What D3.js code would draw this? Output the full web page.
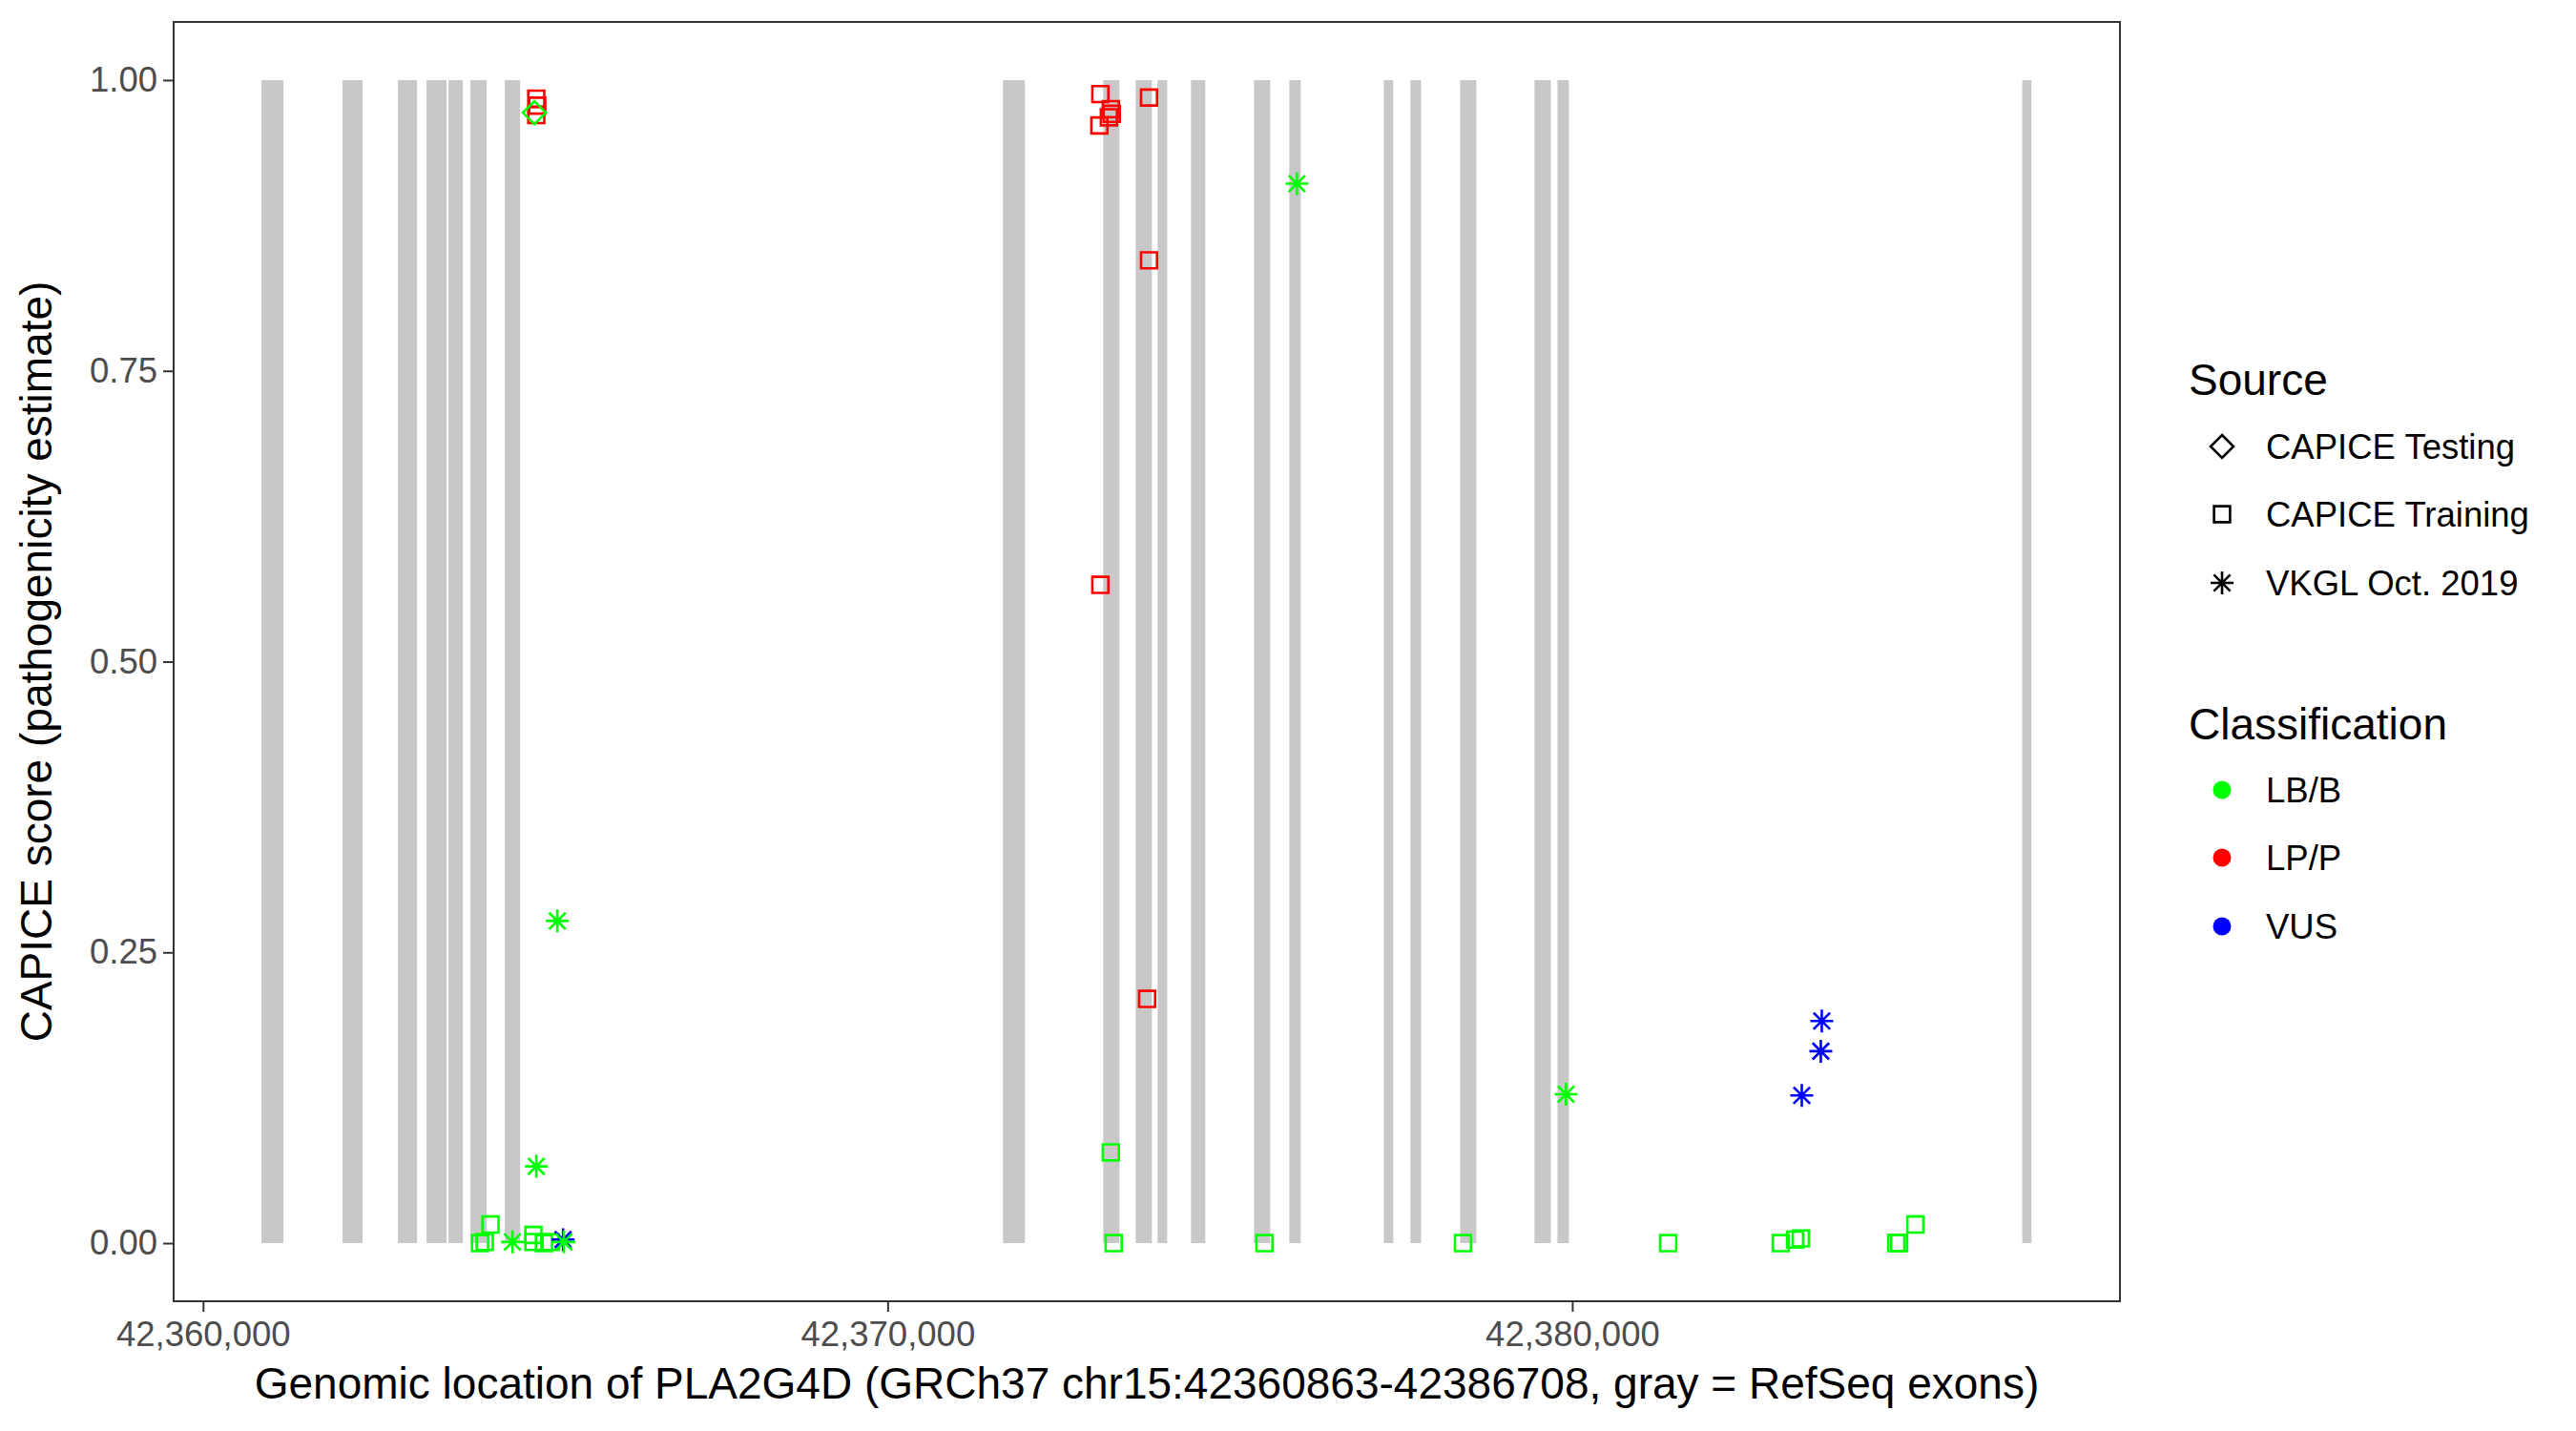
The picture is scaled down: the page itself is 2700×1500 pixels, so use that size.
<!DOCTYPE html>
<html>
<head>
<meta charset="utf-8">
<script src="https://cdn.jsdelivr.net/npm/d3@7"></script>
<style>
  body { margin: 0; background: #fff; }
  text { font-family: "Liberation Sans", Arial, Helvetica, sans-serif; }
</style>
</head>
<body>
<script>
// gene + RefSeq exons (GRCh37 chr15)
var geneStart = 42360863, geneEnd = 42386708
var exonStarts = [42360854, 42362038, 42362847, 42363265, 42363586, 42363906, 42364408,
  42371685, 42373149, 42373623, 42373943, 42374431, 42375351, 42375867, 42377247,
  42377637, 42378362, 42379449, 42379784, 42386573]
var exonEnds = [42361174, 42362331, 42363126, 42363558, 42363795, 42364143, 42364631,
  42372005, 42373386, 42373860, 42374083, 42374640, 42375588, 42376034, 42377386,
  42377791, 42378599, 42379686, 42379951, 42386708]

// variants
var varPos = [
  42364046, 42364115, 42364199, 42364826, 42364826, 42364980, 42365077, 42373260, 42373302,
  42375504, 42378404, 42381401, 42383046, 42383255, 42383339, 42384733, 42384774, 42385012,
  42364868, 42364882, 42364868, 42373107, 42373260, 42373274, 42373232, 42373093, 42373818,
  42373818, 42373107, 42373790,
  42365259, 42383353, 42383631, 42383645,
  42364520, 42364868, 42365175, 42365272, 42375978, 42379909,
  42364840]
var varScore = [
  0.000, 0.001, 0.016, 0.007, 0.001, 0.000, 0.001, 0.078, 0.000,
  0.000, 0.000, 0.000, 0.000, 0.003, 0.004, 0.000, 0.000, 0.016,
  0.984, 0.978, 0.970, 0.988, 0.975, 0.971, 0.968, 0.961, 0.985,
  0.845, 0.566, 0.210,
  0.003, 0.127, 0.165, 0.191,
  0.001, 0.066, 0.277, 0.001, 0.911, 0.128,
  0.972]
var varSource = [
  'CAPICE Training', 'CAPICE Training', 'CAPICE Training', 'CAPICE Training', 'CAPICE Training',
  'CAPICE Training', 'CAPICE Training', 'CAPICE Training', 'CAPICE Training', 'CAPICE Training',
  'CAPICE Training', 'CAPICE Training', 'CAPICE Training', 'CAPICE Training', 'CAPICE Training',
  'CAPICE Training', 'CAPICE Training', 'CAPICE Training',
  'CAPICE Training', 'CAPICE Training', 'CAPICE Training', 'CAPICE Training', 'CAPICE Training',
  'CAPICE Training', 'CAPICE Training', 'CAPICE Training', 'CAPICE Training', 'CAPICE Training',
  'CAPICE Training', 'CAPICE Training',
  'VKGL Oct. 2019', 'VKGL Oct. 2019', 'VKGL Oct. 2019', 'VKGL Oct. 2019',
  'VKGL Oct. 2019', 'VKGL Oct. 2019', 'VKGL Oct. 2019', 'VKGL Oct. 2019', 'VKGL Oct. 2019', 'VKGL Oct. 2019',
  'CAPICE Testing']
var varClass = [
  'LB/B', 'LB/B', 'LB/B', 'LB/B', 'LB/B', 'LB/B', 'LB/B', 'LB/B', 'LB/B',
  'LB/B', 'LB/B', 'LB/B', 'LB/B', 'LB/B', 'LB/B', 'LB/B', 'LB/B', 'LB/B',
  'LP/P', 'LP/P', 'LP/P', 'LP/P', 'LP/P', 'LP/P', 'LP/P', 'LP/P', 'LP/P',
  'LP/P', 'LP/P', 'LP/P',
  'VUS', 'VUS', 'VUS', 'VUS',
  'LB/B', 'LB/B', 'LB/B', 'LB/B', 'LB/B', 'LB/B',
  'LB/B']

var sources = ['CAPICE Testing', 'CAPICE Training', 'VKGL Oct. 2019']
var classes = ['LB/B', 'LP/P', 'VUS']
var classColors = ['#00ff00', '#ff0000', '#0000ff']
var xTicks = [42360000, 42370000, 42380000]
var yTicks = [0, 0.25, 0.5, 0.75, 1]

var W = 2700, H = 1500
var panel = {left: 182, right: 2222, top: 23, bottom: 1364}

var svg = d3.select(document.body).append('svg')
  .attr('width', W).attr('height', H)
svg.append('rect').attr('width', W).attr('height', H).attr('fill', '#fff')

var pad = (geneEnd - geneStart) * 0.05
var x = d3.scaleLinear().domain([geneStart - pad, geneEnd + pad]).range([panel.left, panel.right])
var y = d3.scaleLinear().domain([-0.05, 1.05]).range([panel.bottom, panel.top])
var color = d3.scaleOrdinal().domain(classes).range(classColors)

// shapes like R pch 5, 0, 8
function shapePath (src, s) {
  if (src == 'CAPICE Testing') {
    var r = s * 0.5
    return 'M0,' + (-r) + 'L' + r + ',0L0,' + r + 'L' + (-r) + ',0Z'
  }
  if (src == 'CAPICE Training') {
    var h = s * 0.35
    return 'M' + (-h) + ',' + (-h) + 'H' + h + 'V' + h + 'H' + (-h) + 'Z'
  }
  var a = s * 0.5, d = s * 0.36
  return 'M0,' + (-a) + 'V' + a + 'M' + (-a) + ',0H' + a +
    'M' + (-d) + ',' + (-d) + 'L' + d + ',' + d + 'M' + (-d) + ',' + d + 'L' + d + ',' + (-d)
}

// exons
svg.append('g').selectAll('rect').data(exonStarts).enter().append('rect')
  .attr('x', function(d) { return x(d) })
  .attr('width', function(d, i) { return x(exonEnds[i]) - x(d) })
  .attr('y', y(1))
  .attr('height', y(0) - y(1))
  .attr('fill', '#c8c8c8')

// points
svg.append('g').selectAll('path').data(varPos).enter().append('path')
  .attr('transform', function(d, i) { return 'translate(' + x(d) + ',' + y(varScore[i]) + ')' })
  .attr('d', function(d, i) { return shapePath(varSource[i], 24) })
  .attr('fill', 'none')
  .attr('stroke', function(d, i) { return color(varClass[i]) })
  .attr('stroke-width', 2.6)

// panel border
svg.append('rect')
  .attr('x', panel.left).attr('y', panel.top)
  .attr('width', panel.right - panel.left).attr('height', panel.bottom - panel.top)
  .attr('fill', 'none').attr('stroke', '#333333').attr('stroke-width', 2)

// axes
var xAxis = svg.append('g').attr('transform', 'translate(0,' + panel.bottom + ')')
  .call(d3.axisBottom(x).tickValues(xTicks).tickFormat(d3.format(',')).tickSize(11).tickPadding(10))
var yAxis = svg.append('g').attr('transform', 'translate(' + panel.left + ',0)')
  .call(d3.axisLeft(y).tickValues(yTicks).tickFormat(d3.format('.2f')).tickSize(11).tickPadding(6))
;[xAxis, yAxis].forEach(function(g) {
  g.select('.domain').remove()
  g.selectAll('.tick line').attr('stroke', '#333333').attr('stroke-width', 2)
  g.selectAll('.tick text').attr('fill', '#4d4d4d').attr('font-size', 36.5)
    .attr('font-family', '"Liberation Sans", Arial, sans-serif')
})
xAxis.selectAll('.tick text').attr('dy', '0.71em')

// axis titles
svg.append('text')
  .attr('x', (panel.left + panel.right) / 2).attr('y', 1466)
  .attr('text-anchor', 'middle').attr('font-size', 46).attr('fill', '#000')
  .text('Genomic location of PLA2G4D (GRCh37 chr15:42360863-42386708, gray = RefSeq exons)')
svg.append('text')
  .attr('transform', 'translate(54,' + (panel.top + panel.bottom) / 2 + ') rotate(-90)')
  .attr('text-anchor', 'middle').attr('font-size', 46).attr('fill', '#000')
  .text('CAPICE score (pathogenicity estimate)')

// legends
var lg = svg.append('g')
lg.append('text').attr('x', 2294).attr('y', 414).attr('font-size', 46).text('Source')
var srcRows = [468, 539, 611]
lg.selectAll('path.key').data(sources).enter().append('path')
  .attr('transform', function(d, i) { return 'translate(2329,' + srcRows[i] + ')' })
  .attr('d', function(d) { return shapePath(d, 24) })
  .attr('fill', 'none').attr('stroke', '#000').attr('stroke-width', 2.6)
lg.selectAll('text.src').data(sources).enter().append('text')
  .attr('x', 2375).attr('y', function(d, i) { return srcRows[i] + 13 })
  .attr('font-size', 36.5).text(function(d) { return d })

lg.append('text').attr('x', 2294).attr('y', 775).attr('font-size', 46).text('Classification')
var clsRows = [828, 899, 971]
lg.selectAll('circle').data(classes).enter().append('circle')
  .attr('cx', 2329).attr('cy', function(d, i) { return clsRows[i] })
  .attr('r', 9.5).attr('fill', function(d) { return color(d) })
lg.selectAll('text.cls').data(classes).enter().append('text')
  .attr('x', 2375).attr('y', function(d, i) { return clsRows[i] + 13 })
  .attr('font-size', 36.5).text(function(d) { return d })
</script>
</body>
</html>
